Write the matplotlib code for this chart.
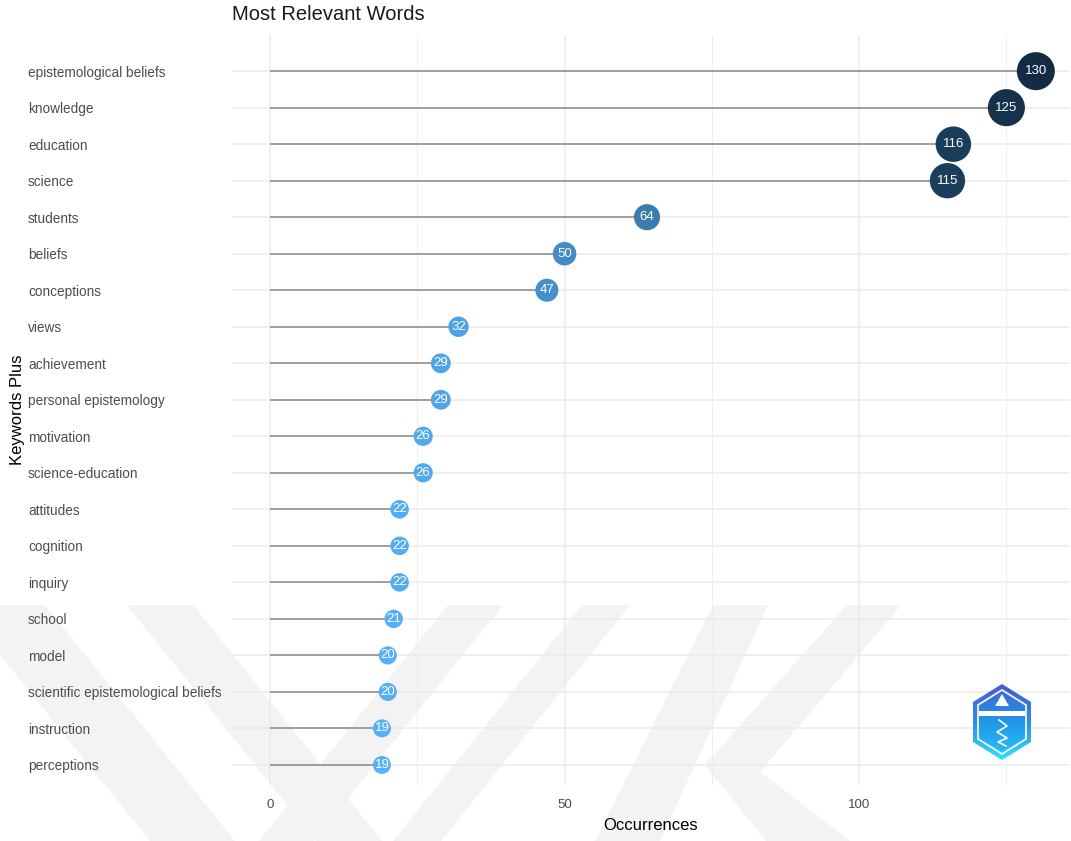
import numpy as np
import matplotlib.pyplot as plt
from matplotlib.patches import Polygon, Rectangle
from matplotlib.colors import LinearSegmentedColormap, to_rgb

words = [
    "epistemological beliefs", "knowledge", "education", "science", "students",
    "beliefs", "conceptions", "views", "achievement", "personal epistemology",
    "motivation", "science-education", "attitudes", "cognition", "inquiry",
    "school", "model", "scientific epistemological beliefs", "instruction",
    "perceptions",
]
counts = [130, 125, 116, 115, 64, 50, 47, 32, 29, 29,
          26, 26, 22, 22, 22, 21, 20, 20, 19, 19]
x_major = [0, 50, 100]
x_minor = [25, 75, 125]

plt.rcParams['font.family'] = ['Liberation Sans', 'DejaVu Sans']

W, H = 1071, 841
fig = plt.figure(figsize=(W / 100, H / 100), dpi=100)


def px(x, y):
    # pixel (top-left origin) -> figure fraction
    return (x / W, 1 - y / H)


# faint thesis watermark behind the chart
wm_bands = [
    [(-40, 605), (45, 605), (235, 841), (150, 841)],
    [(127, 605), (193, 605), (382, 841), (316, 841)],
    [(448, 605), (503, 605), (314, 841), (259, 841)],
    [(582, 605), (630, 605), (441, 841), (393, 841)],
    [(713, 605), (768, 605), (660, 841), (595, 841)],
    [(847, 605), (901, 605), (745, 790), (705, 765)],
    [(705, 765), (745, 760), (850, 841), (766, 841)],
]
for band in wm_bands:
    fig.add_artist(Polygon([px(*p) for p in band], closed=True,
                           transform=fig.transFigure, facecolor='#f3f3f3',
                           edgecolor='none', zorder=-1))

ax = fig.add_axes([232 / W, 1 - 785 / H, (1070 - 232) / W, (785 - 35) / H])
ax.set_facecolor('none')

n = len(words)
y = np.arange(n)[::-1]
vals = np.array(counts, dtype=float)
t = (vals - vals.min()) / (vals.max() - vals.min())

low = np.array(to_rgb('#56B1F7'))
high = np.array(to_rgb('#132B43'))
colors = [tuple(low + ti * (high - low)) for ti in t]
sizes = ((18 + 20 * t) * 0.72) ** 2

ax.hlines(y, 0, vals, color='#888888', lw=1.1, zorder=2)
ax.scatter(vals, y, s=sizes, c=colors, edgecolors='none', zorder=3)
for v, yi in zip(counts, y):
    ax.text(v, yi, str(v), color='white', ha='center', va='center',
            fontsize=9.5, zorder=4)

ax.set_xlim(-6.45, 135.8)
ax.set_ylim(-0.55, n - 1 + 0.99)
ax.set_xticks(x_major)
ax.set_xticks(x_minor, minor=True)
ax.set_yticks(y)
ax.set_yticklabels(words, ha='left', color='#4d4d4d', fontsize=9.8)
ax.tick_params(axis='y', pad=(232 - 28) * 0.72, length=0)
ax.tick_params(axis='x', which='both', length=0, pad=10, labelsize=9.5,
               labelcolor='#4d4d4d')
ax.grid(which='major', color='#ebebeb', lw=1.1, zorder=0)
ax.grid(which='minor', axis='x', color='#ebebeb', lw=0.6, zorder=0)
ax.set_axisbelow(True)
for sp in ax.spines.values():
    sp.set_visible(False)

ax.set_xlabel('Occurrences', fontsize=12, labelpad=5)
fig.text(18 / W, 1 - 410 / H, 'Keywords Plus', rotation=90, ha='center',
         va='center', fontsize=12)
fig.text(232 / W, 1 - 15 / H, 'Most Relevant Words', ha='left', va='center',
         fontsize=14.5, color='#1a1a1a')

# small hexagon logo, bottom right
lg = fig.add_axes([973 / W, 1 - 760 / H, 58 / W, 76 / H])
lg.set_xlim(0, 58)
lg.set_ylim(0, 76)
lg.axis('off')
grad = np.linspace(0, 1, 100).reshape(-1, 1)
outer = Polygon([(29, 76), (58, 58), (58, 18), (29, 0), (0, 18), (0, 58)],
                facecolor='none', edgecolor='none')
lg.add_patch(outer)
im = lg.imshow(grad, extent=(0, 58, 0, 76), aspect='auto',
               cmap=LinearSegmentedColormap.from_list('o', ['#4a5ccc', '#2b8fe6', '#2fe0f8']))
im.set_clip_path(outer)
inner = Polygon([(29, 70), (53, 55), (53, 21), (29, 6), (5, 21), (5, 55)],
                facecolor='none', edgecolor='white', lw=1.2)
lg.add_patch(inner)
im2 = lg.imshow(grad, extent=(0, 58, 0, 76), aspect='auto',
                cmap=LinearSegmentedColormap.from_list('i', ['#3f63cf', '#2196ea', '#27c6f3']))
inner_fill = Polygon([(29, 68), (51, 54), (51, 22), (29, 8), (7, 22), (7, 54)],
                     facecolor='none', edgecolor='none')
lg.add_patch(inner_fill)
im2.set_clip_path(inner_fill)
lg.add_patch(Polygon([(29, 66), (22, 54), (36, 54)], facecolor='white', edgecolor='none'))
lg.add_patch(Rectangle((6, 44), 46, 5, facecolor='white', edgecolor='none'))
lg.plot([26, 34, 24, 34, 25, 33], [40, 34, 28, 22, 18, 14], color='white', lw=1.2)

fig.savefig('out.png', dpi=100)
